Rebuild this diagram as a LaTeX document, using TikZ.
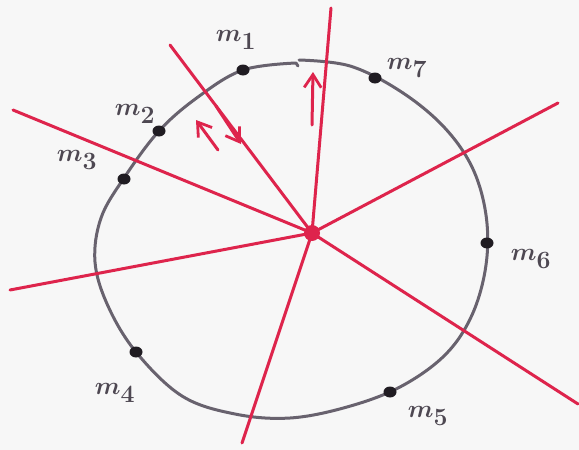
\documentclass[tikz,border=0pt]{standalone}
\usetikzlibrary{arrows.meta,shapes.geometric}
\definecolor{ink}{RGB}{104,98,110}
\definecolor{dotc}{RGB}{32,28,34}
\definecolor{redl}{RGB}{222,36,76}
\definecolor{lab}{RGB}{78,72,82}
\definecolor{paper}{RGB}{247,247,247}
\tikzset{
  pt/.style={ellipse, fill=dotc, inner sep=0pt, minimum width=13pt, minimum height=11pt},
  ring/.style={draw=ink, line width=3pt, line cap=round, line join=round},
  ray/.style={draw=redl, line width=3pt, line cap=round},
  redarrow/.style={draw=redl, line width=3pt, line cap=round, -{Straight Barb[length=13pt,width=17pt,line width=2.8pt]}},
  lbl/.style={text=lab, font=\fontsize{34}{38}\selectfont\boldmath}
}
\begin{document}
\begin{tikzpicture}[x={(1pt,0)}, y={(0,-1pt)}]
\useasboundingbox[fill=paper] (0,0) rectangle (579,450);
% circle (hand drawn, with a small gap on top)
\draw[ring] plot[smooth, tension=0.6] coordinates {
 (299,60) (350,66) (400,91) (443,126) (472,167) (486,215) (486,265)
 (472,315) (445,355) (400,387) (347,407) (290,418) (235,414) (182,396)
 (136,352) (108,306) (95,262) (101,218) (124,178) (159,131) (198,97)
 (243,70) (296,63)} -- (298,66);
% centre
\node[circle, fill=redl, inner sep=0pt, minimum size=16pt] (c) at (312,233) {};
% ray ends
\coordinate (e1) at (13,110);
\coordinate (e2) at (170,45);
\coordinate (e3) at (331,8);
\coordinate (e4) at (558,103);
\coordinate (e5) at (578,404);
\coordinate (e6) at (242,443);
\coordinate (e7) at (10,290);
\draw[ray] (c.center) -- (e1);
\draw[ray] (c.center) -- (e2);
\draw[ray] (c.center) -- (e3);
\draw[ray] (c.center) -- (e4);
\draw[ray] (c.center) -- (e5);
\draw[ray] (c.center) -- (e6);
\draw[ray] (c.center) -- (e7);
% arrows
\coordinate (a1) at (312,125); \coordinate (b1) at (313,72);
\coordinate (a2) at (218,150); \coordinate (b2) at (196,120);
\coordinate (a3) at (216,106); \coordinate (b3) at (241,144);
\draw[redarrow] (a1) -- (b1);
\draw[redarrow] (a2) -- (b2);
\draw[redarrow] (a3) -- (b3);
% points
\node[pt] (m1) at (243,70) {};
\node[pt] (m2) at (159,131) {};
\node[pt] (m3) at (124,179) {};
\node[pt] (m4) at (136,352) {};
\node[pt] (m5) at (390,392) {};
\node[pt] (m6) at (487,243) {};
\node[pt] (m7) at (375,78) {};
% labels
\node[lbl] (l1) at (236,40) {$m_1$};
\node[lbl] (l7) at (407,68) {$m_7$};
\node[lbl] (l2) at (135,114) {$m_2$};
\node[lbl] (l3) at (77,160) {$m_3$};
\node[lbl] (l6) at (531,259) {$m_6$};
\node[lbl] (l4) at (115,393) {$m_4$};
\node[lbl] (l5) at (428,416) {$m_5$};
\end{tikzpicture}
\end{document}
